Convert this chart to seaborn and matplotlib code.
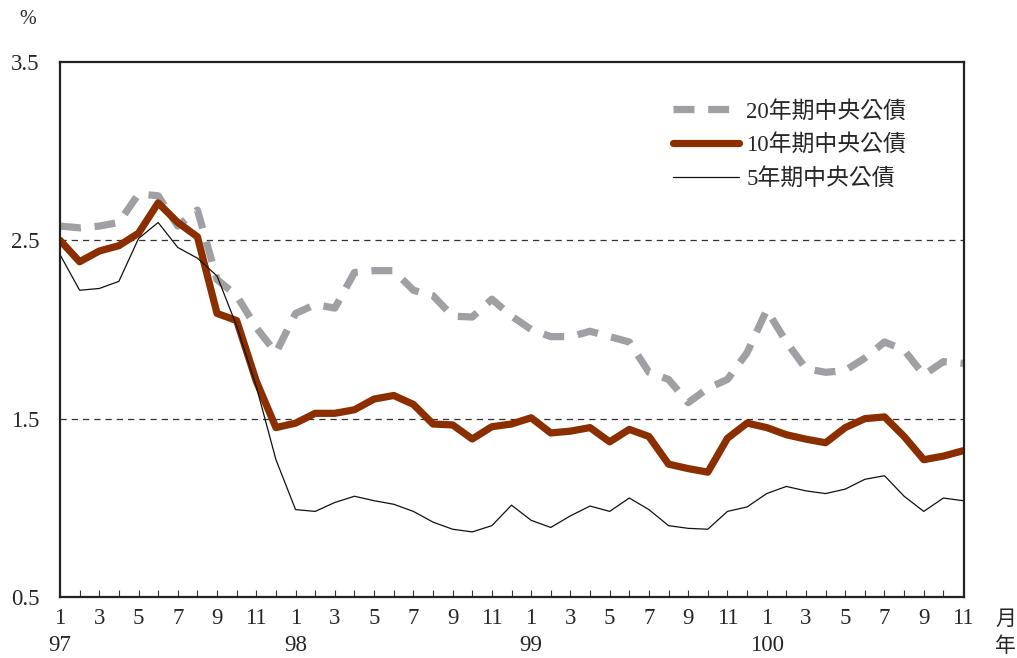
import matplotlib
matplotlib.use("Agg")
import matplotlib.pyplot as plt
import matplotlib.transforms as mtransforms
import numpy as np
import pandas as pd
import seaborn as sns

# Monthly yields of central government bonds, Jan 97 .. Nov 100 (%)
months = [1, 2, 3, 4, 5, 6, 7, 8, 9, 10, 11, 12] * 3 + list(range(1, 12))
years = ["97", "98", "99", "100"]

yield_20y = [2.58, 2.57, 2.58, 2.60, 2.76, 2.75, 2.58, 2.67, 2.28, 2.19, 2.01, 1.87,
             2.09, 2.14, 2.12, 2.32, 2.33, 2.33, 2.22, 2.19, 2.075, 2.07, 2.17, 2.075,
             2.00, 1.96, 1.96, 1.99, 1.96, 1.93, 1.76, 1.72, 1.59, 1.67, 1.72, 1.87,
             2.11, 1.93, 1.78, 1.76, 1.77, 1.84, 1.93, 1.885, 1.745, 1.82, 1.81]
yield_10y = [2.50, 2.38, 2.44, 2.47, 2.54, 2.71, 2.60, 2.52, 2.09, 2.05, 1.71, 1.45,
             1.475, 1.53, 1.53, 1.55, 1.61, 1.63, 1.58, 1.47, 1.465, 1.386, 1.455, 1.47,
             1.505, 1.42, 1.43, 1.45, 1.37, 1.44, 1.40, 1.245, 1.22, 1.20, 1.39, 1.475,
             1.45, 1.41, 1.385, 1.365, 1.45, 1.50, 1.51, 1.40, 1.27, 1.29, 1.32]
yield_5y = [2.42, 2.22, 2.23, 2.27, 2.51, 2.60, 2.46, 2.40, 2.30, 2.02, 1.68, 1.27,
            0.99, 0.98, 1.03, 1.065, 1.04, 1.02, 0.98, 0.92, 0.88, 0.865, 0.90, 1.015,
            0.93, 0.89, 0.955, 1.01, 0.98, 1.055, 0.99, 0.90, 0.885, 0.88, 0.98, 1.005,
            1.08, 1.12, 1.095, 1.08, 1.105, 1.16, 1.18, 1.065, 0.98, 1.055, 1.04]

labels = ["20年期中央公債", "10年期中央公債", "5年期中央公債"]
y_ticks = [0.5, 1.5, 2.5, 3.5]

sns.set_theme(style="white")
plt.rcParams["font.family"] = ["Liberation Serif", "Noto Sans CJK TC"]
plt.rcParams["axes.unicode_minus"] = False

idx = np.arange(len(months))
df = pd.DataFrame({"t": idx, "y20": yield_20y, "y10": yield_10y, "y5": yield_5y})

fig = plt.figure(figsize=(10.17, 6.58), dpi=100)
ax = fig.add_axes([60 / 1017, 1 - 597 / 658, 904 / 1017, 535 / 658])

FS = 16.5

sns.lineplot(data=df, x="t", y="y20", ax=ax, color="#a0a0a4", linewidth=5.2,
             label=labels[0], solid_capstyle="butt")
ax.lines[-1].set_dashes((2.9, 1.9))
ax.lines[-1].set_dash_capstyle("butt")
sns.lineplot(data=df, x="t", y="y10", ax=ax, color="#8b2e00", linewidth=5.2,
             label=labels[1], solid_capstyle="round", solid_joinstyle="round")
sns.lineplot(data=df, x="t", y="y5", ax=ax, color="#111111", linewidth=0.9,
             label=labels[2])

# dashed reference lines inside the plot
for yv in y_ticks[1:-1]:
    ax.axhline(yv, color="#333333", linewidth=0.9, linestyle=(0, (5, 4)), zorder=1)

ax.set_xlim(0, len(months) - 1 + 0.05)
ax.set_ylim(0.5, 3.5)
ax.set_yticks(y_ticks)
ax.set_yticklabels([f"{v:.1f}" for v in y_ticks], fontsize=FS)
ax.set_xticks(idx)
ax.set_xticklabels([str(m) if m % 2 == 1 else "" for m in months], fontsize=FS)
ax.tick_params(axis="x", direction="in", length=5, width=0.8, color="#333333",
               pad=8, bottom=True)
ax.tick_params(axis="y", length=0, pad=15)
ax.set_xlabel("")
ax.set_ylabel("")

for s in ax.spines.values():
    s.set_visible(True)
    s.set_color("#222222")
    s.set_linewidth(1.6)

# year labels under each January
trans = mtransforms.blended_transform_factory(ax.transData, ax.transAxes)
jan_positions = [i for i, m in enumerate(months) if m == 1]
for pos, yr in zip(jan_positions, years):
    ax.text(pos, -0.091, yr, transform=trans, ha="center", va="center", fontsize=FS)

ax.text(1.046, -0.04, "月", transform=ax.transAxes, ha="center", va="center",
        fontsize=FS - 1.5, family=["Noto Sans CJK TC"])
ax.text(1.046, -0.091, "年", transform=ax.transAxes, ha="center", va="center",
        fontsize=FS - 1.5, family=["Noto Sans CJK TC"])
fig.text(28 / 1017, 1 - 19 / 658, "%", ha="center", va="center", fontsize=FS - 2)

leg = ax.legend(loc="upper left", bbox_to_anchor=(0.668, 0.945), frameon=False,
                fontsize=FS, handlelength=2.9, handletextpad=0.3, labelspacing=0.52,
                borderaxespad=0)

fig.savefig("out.png", dpi=100)
